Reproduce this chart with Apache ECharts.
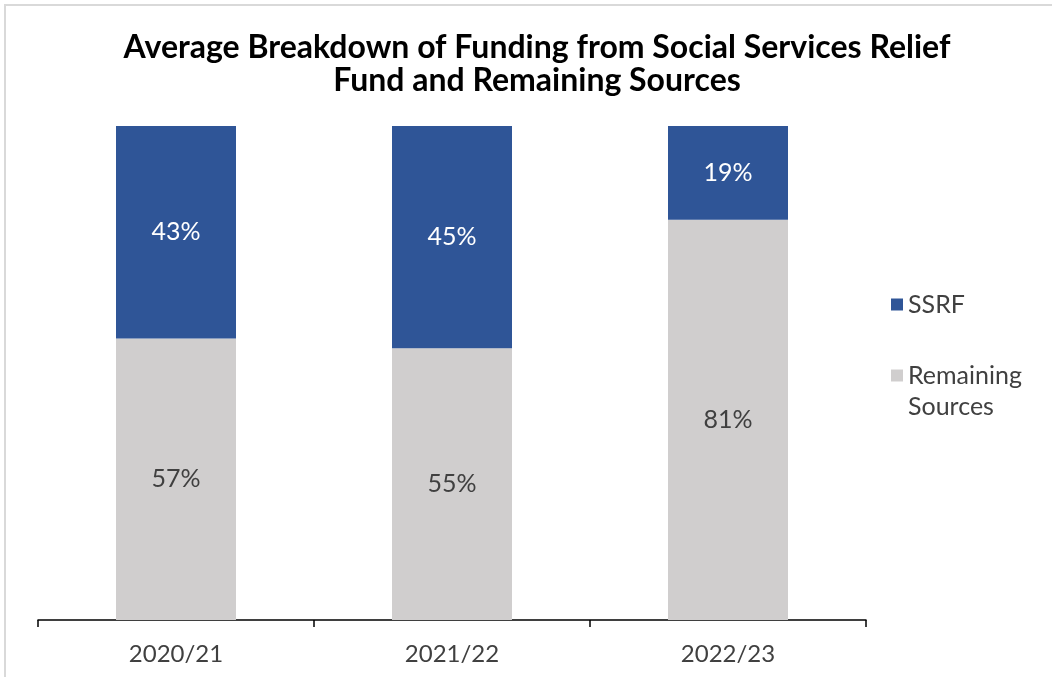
<!DOCTYPE html>
<html><head><meta charset="utf-8">
<script src="https://cdn.jsdelivr.net/npm/echarts@6/dist/echarts.min.js"></script>
<style>html,body{margin:0;padding:0;background:#fff}#c{width:1052px;height:677px}</style>
</head><body><div id="c"></div>
<script>
const categories = ['2020/21', '2021/22', '2022/23'];
const ssrf = [43, 45, 19];
const remaining = [57, 55, 81];
const seriesNames = ['SSRF', 'Remaining Sources'];

const chart = echarts.init(document.getElementById('c'));
const font = 'Lato';
chart.setOption({
  backgroundColor: '#fff',
  animation: false,
  title: {
    text: 'Average Breakdown of Funding from Social Services Relief\nFund and Remaining Sources',
    left: 532, top: 26, textAlign: 'center',
    textStyle: { fontFamily: font, fontWeight: 'bold', fontSize: 32, lineHeight: 33, color: '#000' }
  },
  graphic: [{ type: 'rect', shape: { x: 5, y: 5, width: 1100, height: 1000 }, style: { fill: null, stroke: '#d9d9d9', lineWidth: 2 }, silent: true }],
  legend: {
    orient: 'vertical', left: 886, top: 284,
    itemWidth: 12, itemHeight: 12, itemGap: 9,
    icon: 'rect',
    textStyle: { fontFamily: font, fontSize: 25, lineHeight: 31, color: '#404040' },
    data: [ { name: 'SSRF' }, { name: 'Remaining Sources' } ],
    formatter: n => n === 'Remaining Sources' ? ' \nRemaining\nSources' : n
  },
  grid: { left: 38, right: 186, top: 126, bottom: 57, containLabel: false },
  xAxis: {
    type: 'category', data: categories,
    axisLine: { lineStyle: { color: '#000', width: 1.5 } },
    axisTick: { show: true, length: 7, lineStyle: { color: '#000', width: 1.5 } },
    axisLabel: { fontFamily: font, fontSize: 24, color: '#404040', margin: 22 }
  },
  yAxis: { type: 'value', min: 0, max: 100, show: false, splitLine: { show: false } },
  series: [
    {
      name: 'Remaining Sources', type: 'bar', stack: 's', data: remaining, barWidth: 120,
      itemStyle: { color: '#D0CECE' },
      label: { show: true, position: 'inside', formatter: '{c}%', fontFamily: font, fontSize: 25, color: '#404040' }
    },
    {
      name: 'SSRF', type: 'bar', stack: 's', data: ssrf, barWidth: 120,
      itemStyle: { color: '#2F5597' },
      label: { show: true, position: 'inside', formatter: '{c}%', fontFamily: font, fontSize: 25, color: '#fff' }
    }
  ]
});
</script></body></html>
